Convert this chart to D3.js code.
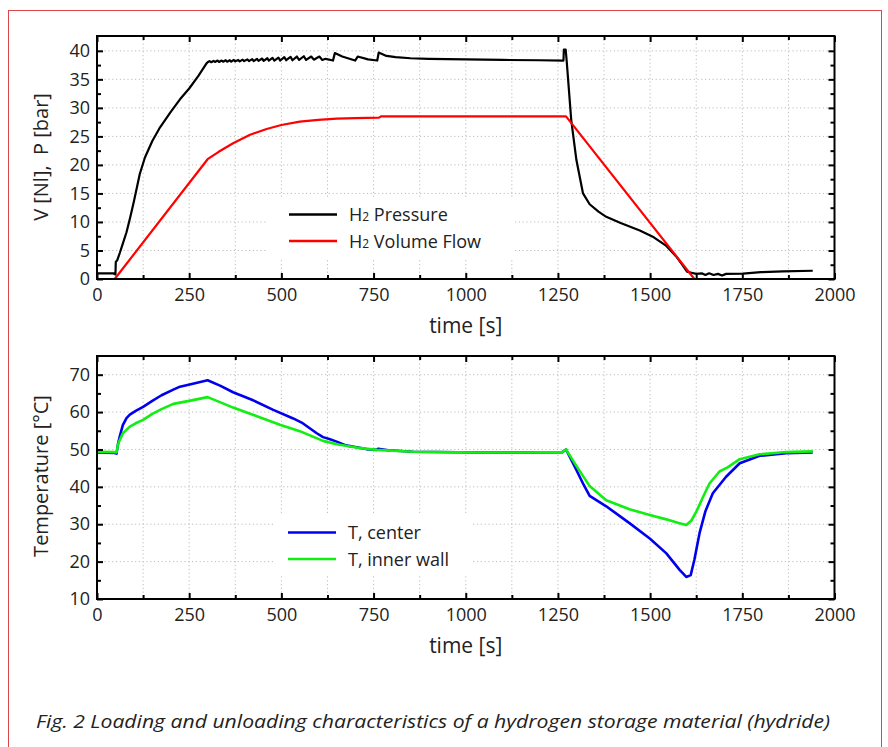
<!DOCTYPE html>
<html>
<head>
<meta charset="utf-8">
<script src="https://cdn.jsdelivr.net/npm/d3@7"></script>
<style>
  body { margin: 0; background: #fff; }
  text { font-family: "Open Sans", "Noto Sans", sans-serif; fill: #222; }
</style>
</head>
<body>
<svg id="chart" width="888" height="747"></svg>
<script>
// ---- data ----
var xMajor = [0, 250, 500, 750, 1000, 1250, 1500, 1750, 2000];
var xMinor = [125, 375, 625, 875, 1125, 1375, 1625, 1875];
var pTicks = [0, 5, 10, 15, 20, 25, 30, 35, 40];
var pMinor = [2.5, 7.5, 12.5, 17.5, 22.5, 27.5, 32.5, 37.5];
var tTicks = [10, 20, 30, 40, 50, 60, 70];
var tMinor = [15, 25, 35, 45, 55, 65];

// [time s, pressure bar]
var h2Pressure = [
  [0, 1.0], [44, 1.0], [50, 0.8], [51, 3.0], [55, 3.3], [62, 4.6], [70, 6.2], [80, 8.2],
  [90, 10.8], [100, 13.6], [116, 18.4], [130, 21.3], [150, 24.2], [171, 26.6], [200, 29.3],
  [225, 31.5], [250, 33.4], [275, 35.6], [297, 37.8], [300, 38.0],
  [305, 38.2], [310, 38.0], [316, 38.25], [320, 38.05], [327, 38.3], [331, 38.05], [338, 38.3],
  [342, 38.1], [349, 38.35], [353, 38.1], [360, 38.35], [364, 38.1], [371, 38.4], [375, 38.15],
  [383, 38.4], [387, 38.15], [395, 38.45], [399, 38.2], [408, 38.5], [412, 38.2], [421, 38.55],
  [425, 38.2], [434, 38.6], [438, 38.25], [448, 38.65], [452, 38.25], [462, 38.7], [466, 38.3],
  [476, 38.75], [481, 38.3], [492, 38.8], [497, 38.3], [508, 38.9], [513, 38.35], [525, 38.95],
  [530, 38.35], [542, 39.0], [548, 38.4], [561, 39.05], [567, 38.4], [581, 39.0], [588, 38.45],
  [603, 39.0], [611, 38.4], [620, 38.6], [640, 38.3], [645, 39.6], [665, 39.0], [700, 38.3],
  [707, 39.0], [735, 38.5], [760, 38.3], [764, 39.7], [785, 39.1], [810, 38.9], [850, 38.7],
  [900, 38.6], [1000, 38.5], [1100, 38.4], [1200, 38.35], [1265, 38.3], [1266, 40.2],
  [1271, 40.2], [1274, 38.0], [1286, 27.9], [1300, 20.9], [1318, 15.0], [1336, 13.1],
  [1360, 11.8], [1381, 10.9], [1420, 9.8], [1472, 8.5], [1510, 7.3], [1544, 5.8], [1570, 4.0],
  [1586, 2.6], [1600, 1.3], [1612, 1.1], [1625, 0.9], [1640, 1.0], [1650, 0.7], [1660, 1.0],
  [1672, 0.7], [1684, 0.9], [1695, 0.6], [1706, 0.9], [1752, 0.95], [1800, 1.2], [1860, 1.35],
  [1941, 1.45]
];

// [time s, volume Nl]
var h2Flow = [
  [0, 0], [48, 0], [300, 21.0], [330, 22.3], [369, 23.8], [415, 25.3], [460, 26.3],
  [500, 27.0], [550, 27.6], [600, 27.9], [650, 28.1], [700, 28.2], [765, 28.3],
  [770, 28.5], [1272, 28.5], [1620, 0]
];

// [time s, temperature °C]
var tCenter = [
  [0, 49.2], [45, 49.1], [53, 48.9], [57, 51.5], [62, 53.6], [70, 56.5], [80, 58.4],
  [89, 59.3], [105, 60.3], [125, 61.4], [150, 63.0], [175, 64.5], [207, 66.0], [225, 66.8],
  [260, 67.6], [300, 68.5], [335, 67.0], [369, 65.3], [420, 63.3], [478, 60.6], [532, 58.3],
  [555, 57.2], [575, 55.8], [595, 54.4], [613, 53.3], [630, 52.8], [650, 52.1], [675, 51.1],
  [704, 50.6], [730, 50.1], [758, 49.9], [763, 50.2], [790, 49.8], [857, 49.4], [1038, 49.2],
  [1150, 49.2], [1262, 49.3], [1272, 50.0], [1300, 44.5], [1320, 40.5], [1336, 37.6],
  [1381, 34.8], [1444, 30.3], [1499, 26.2], [1544, 22.2], [1580, 17.8], [1598, 15.9],
  [1610, 16.4], [1620, 20.5], [1634, 27.6], [1650, 33.5], [1670, 38.3], [1706, 42.7],
  [1743, 46.3], [1797, 48.3], [1869, 49.0], [1941, 49.2]
];

var tInnerWall = [
  [0, 49.4], [45, 49.3], [53, 49.2], [57, 51.4], [62, 52.6], [70, 54.3], [89, 56.1],
  [105, 57.0], [125, 57.9], [150, 59.5], [175, 60.8], [207, 62.2], [250, 63.0],
  [300, 64.0], [335, 62.6], [369, 61.2], [430, 59.0], [496, 56.6], [550, 54.9],
  [613, 52.3], [650, 51.4], [704, 50.5], [758, 49.9], [857, 49.4], [1038, 49.2],
  [1150, 49.2], [1262, 49.3], [1272, 50.0], [1300, 45.6], [1336, 40.2], [1381, 36.4],
  [1444, 34.0], [1499, 32.5], [1544, 31.3], [1575, 30.4], [1598, 29.8], [1612, 31.0],
  [1625, 33.3], [1645, 37.6], [1661, 40.9], [1688, 44.1], [1710, 45.2], [1743, 47.4],
  [1797, 48.7], [1869, 49.3], [1941, 49.5]
];

var svg = d3.select("#chart");

// outer frame of the figure
svg.append("rect")
  .attr("x", 8.5).attr("y", 10.5)
  .attr("width", 873).attr("height", 760)
  .attr("fill", "none")
  .attr("stroke", "#d9474a")
  .attr("stroke-width", 1);

var left = 97, right = 834.5;

function drawPanel(opt) {
  var x = d3.scaleLinear().domain([0, 2000]).range([left, right]);
  var y = d3.scaleLinear().domain(opt.yDomain).range([opt.bottom, opt.top]);
  var g = svg.append("g");

  // dotted grid
  var gx = xMajor.concat(xMinor).filter(d => d > 0 && d < 2000);
  g.selectAll(null).data(gx).join("line")
    .attr("x1", d => x(d)).attr("x2", d => x(d))
    .attr("y1", opt.top).attr("y2", opt.bottom)
    .attr("stroke", "#bdbdbd").attr("stroke-width", 1)
    .attr("stroke-dasharray", "1.2,2.6");
  g.selectAll(null).data(opt.yTicks.filter(d => d > opt.yDomain[0])).join("line")
    .attr("x1", left).attr("x2", right)
    .attr("y1", d => y(d)).attr("y2", d => y(d))
    .attr("stroke", "#bdbdbd").attr("stroke-width", 1)
    .attr("stroke-dasharray", "1.2,2.6");

  // legend background hides the grid
  g.append("rect")
    .attr("x", opt.legend.box[0]).attr("y", opt.legend.box[1])
    .attr("width", opt.legend.box[2]).attr("height", opt.legend.box[3])
    .attr("fill", "#fff");

  // series
  var line = d3.line().x(d => x(d[0])).y(d => y(d[1]));
  opt.series.forEach(s => {
    g.append("path").datum(s.data)
      .attr("d", line)
      .attr("fill", "none")
      .attr("stroke", s.color)
      .attr("stroke-width", s.width)
      .attr("stroke-linejoin", "round");
  });

  // axes: ticks point inward on all four sides
  function styleAxis(sel) {
    sel.selectAll("line").attr("stroke", "#000").attr("stroke-width", 2);
    sel.select(".domain").remove();
    sel.selectAll("text").style("font-size", "18px").attr("fill", "#222");
  }
  g.append("g").attr("transform", "translate(0," + opt.bottom + ")")
    .call(d3.axisBottom(x).tickValues(xMajor).tickFormat(d3.format("d"))
      .tickSizeInner(-6).tickSizeOuter(0).tickPadding(9))
    .call(styleAxis);
  g.append("g").attr("transform", "translate(0," + opt.bottom + ")")
    .call(d3.axisBottom(x).tickValues(xMinor).tickFormat("").tickSizeInner(-4).tickSizeOuter(0))
    .call(styleAxis);
  g.append("g").attr("transform", "translate(0," + opt.top + ")")
    .call(d3.axisTop(x).tickValues(xMajor).tickFormat("").tickSizeInner(-6).tickSizeOuter(0))
    .call(styleAxis);
  g.append("g").attr("transform", "translate(0," + opt.top + ")")
    .call(d3.axisTop(x).tickValues(xMinor).tickFormat("").tickSizeInner(-4).tickSizeOuter(0))
    .call(styleAxis);
  g.append("g").attr("transform", "translate(" + left + ",0)")
    .call(d3.axisLeft(y).tickValues(opt.yTicks).tickSizeInner(-6).tickSizeOuter(0).tickPadding(7))
    .call(styleAxis);
  g.append("g").attr("transform", "translate(" + left + ",0)")
    .call(d3.axisLeft(y).tickValues(opt.yMinor).tickFormat("").tickSizeInner(-4).tickSizeOuter(0))
    .call(styleAxis);
  g.append("g").attr("transform", "translate(" + right + ",0)")
    .call(d3.axisRight(y).tickValues(opt.yTicks).tickFormat("").tickSizeInner(-6).tickSizeOuter(0))
    .call(styleAxis);
  g.append("g").attr("transform", "translate(" + right + ",0)")
    .call(d3.axisRight(y).tickValues(opt.yMinor).tickFormat("").tickSizeInner(-4).tickSizeOuter(0))
    .call(styleAxis);

  // frame
  g.append("rect")
    .attr("x", left).attr("y", opt.top)
    .attr("width", right - left).attr("height", opt.bottom - opt.top)
    .attr("fill", "none").attr("stroke", "#000").attr("stroke-width", 2);

  // axis titles
  g.append("text")
    .attr("x", (left + right) / 2).attr("y", opt.bottom + 54)
    .attr("text-anchor", "middle")
    .style("font-size", "21px")
    .text("time [s]");
  g.append("text")
    .attr("transform", "translate(48," + opt.yTitleY + ") rotate(-90)")
    .attr("text-anchor", "middle")
    .style("font-size", "20px")
    .style("white-space", "pre")
    .text(opt.yTitle);

  // legend
  opt.series.forEach((s, i) => {
    var ly = opt.legend.y + i * 26.5;
    g.append("line")
      .attr("x1", opt.legend.x).attr("x2", opt.legend.x + 48)
      .attr("y1", ly).attr("y2", ly)
      .attr("stroke", s.color).attr("stroke-width", 2.5);
    var t = g.append("text")
      .attr("x", opt.legend.x + 60).attr("y", ly + 6.5)
      .style("font-size", "18px");
    if (s.sub) {
      t.append("tspan").text("H");
      t.append("tspan").style("font-size", "12px").text("2");
      t.append("tspan").text(" " + s.label);
    } else {
      t.text(s.label);
    }
  });
}

drawPanel({
  top: 36, bottom: 279, yDomain: [0, 42.6],
  yTicks: pTicks, yMinor: pMinor,
  yTitle: "V [Nl],  P [bar]", yTitleY: 157,
  legend: { x: 289, y: 214.5, box: [266, 199, 248, 60] },
  series: [
    { data: h2Pressure, color: "#000000", width: 2.2, label: "Pressure", sub: true },
    { data: h2Flow, color: "#ff0000", width: 2.2, label: "Volume Flow", sub: true }
  ]
});

drawPanel({
  top: 356, bottom: 599, yDomain: [10, 75],
  yTicks: tTicks, yMinor: tMinor,
  yTitle: "Temperature [°C]", yTitleY: 476,
  legend: { x: 288, y: 532.5, box: [273, 515, 198, 60] },
  series: [
    { data: tCenter, color: "#0000ee", width: 2.6, label: "T, center" },
    { data: tInnerWall, color: "#11ee11", width: 2.6, label: "T, inner wall" }
  ]
});

// caption
svg.append("text")
  .attr("x", 36).attr("y", 728)
  .style("font-size", "18px")
  .style("font-style", "italic")
  .attr("textLength", 794)
  .attr("lengthAdjust", "spacingAndGlyphs")
  .text("Fig. 2 Loading and unloading characteristics of a hydrogen storage material (hydride)");
</script>
</body>
</html>
